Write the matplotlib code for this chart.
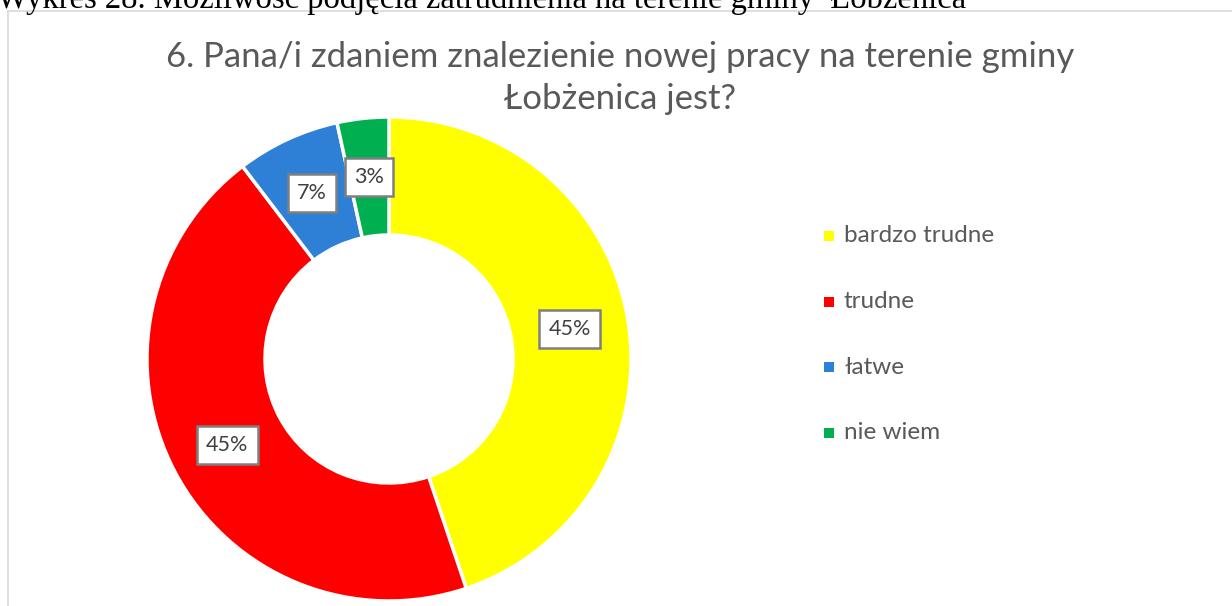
import matplotlib.pyplot as plt
from matplotlib.patches import Rectangle

# responses (counts, labels show rounded %)
categories = ['bardzo trudne', 'trudne', 'łatwe', 'nie wiem']
counts = [13, 13, 2, 1]
colors = ['#FFFF00', '#FF0000', '#2E7FD6', '#00B050']

title = '6. Pana/i zdaniem znalezienie nowej pracy na terenie gminy\nŁobżenica jest?'
caption = 'Wykres 28. Możliwość podjęcia zatrudnienia na terenie gminy  Łobżenica'

W, H = 1232, 606
fig = plt.figure(figsize=(W / 100, H / 100), dpi=100)
ax = fig.add_axes([0, 0, 1, 1])
ax.set_xlim(0, W)
ax.set_ylim(0, H)
ax.set_aspect('equal')
ax.axis('off')

# chart frame (cut by the image edges)
ax.add_patch(Rectangle((7.5, -10), W + 20, H - 10.5 + 10, fill=False,
                       edgecolor='#d9d9d9', linewidth=1.2))

# caption from the document, cut off at the top like in the source
ax.text(-3, H - 8, caption, fontsize=23.5, family='Liberation Serif',
        color='black', va='baseline', ha='left', clip_on=False)

ax.text(620, H - 78, title, fontsize=25, family='Lato', color='#595959',
        ha='center', va='center', linespacing=1.4)

wedges, texts, autotexts = ax.pie(
    counts, colors=colors, startangle=90, counterclock=False,
    center=(389, H - 359), radius=242, frame=True,
    wedgeprops=dict(width=118, edgecolor='white', linewidth=2.5),
    autopct=lambda p: f'{p:.0f}%', pctdistance=183 / 242,
    textprops=dict(fontsize=15.5, family='Lato', color='#404040'))
for t in autotexts:
    t.set_bbox(dict(boxstyle='square,pad=0.42', facecolor='white',
                    edgecolor='#7f7f7f', linewidth=1.8))
ax.set_xlim(0, W)
ax.set_ylim(0, H)
ax.axis('off')

# legend
for i, (cat, col) in enumerate(zip(categories, colors)):
    y = H - (236 + i * 65.5)
    ax.add_patch(Rectangle((824, y - 5), 10, 10, facecolor=col, edgecolor='none'))
    ax.text(844, y, cat, fontsize=17.5, family='Lato', color='#595959',
            va='center', ha='left')

fig.savefig('out.png', dpi=100)
